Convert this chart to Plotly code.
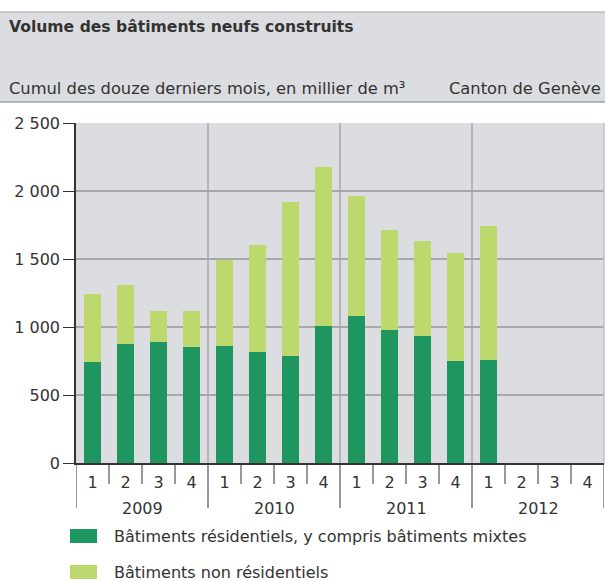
import plotly.graph_objects as go

# ---- data ----
years = ["2009", "2010", "2011", "2012"]
quarters = ["1", "2", "3", "4"]
residential = [740, 872, 887, 850, 857, 813, 784, 1004, 1078, 975, 931, 747, 755, None, None, None]
total = [1243, 1307, 1115, 1115, 1493, 1603, 1918, 2175, 1962, 1713, 1632, 1544, 1742, None, None, None]
non_residential = [(t - r) if (t is not None and r is not None) else None for t, r in zip(total, residential)]
series_names = ["Bâtiments résidentiels, y compris bâtiments mixtes", "Bâtiments non résidentiels"]
y_ticks = [0, 500, 1000, 1500, 2000, 2500]

W, H = 605, 581
PLOT_L, PLOT_R, PLOT_T, PLOT_B = 76, 604, 123, 463  # pixels
ML = PLOT_L
MR = W - PLOT_R
MT = PLOT_T
MB = H - PLOT_B
PW = PLOT_R - PLOT_L
PH = PLOT_B - PLOT_T

def px(p):
    return (p - PLOT_L) / PW

def py(p):
    return (PLOT_B - p) / PH

FONT = "DejaVu Sans, Liberation Sans, Arial, sans-serif"
TXT = "#333333"
DARK = "#1f9660"
LIGHT = "#bdd96e"
BG = "#dcdde0"
GRID = "#a8a8a8"
FS = 16

xs = list(range(len(years) * len(quarters)))
qlabels = [q for y in years for q in quarters]

fig = go.Figure()
fig.add_bar(x=xs, y=residential, marker_color=DARK, marker_line_width=0, name=series_names[0])
fig.add_bar(x=xs, y=non_residential, marker_color=LIGHT, marker_line_width=0, name=series_names[1])

shapes = []
# header box
shapes.append(dict(type="rect", xref="paper", yref="paper", x0=px(-2), x1=px(W + 2), y0=py(102), y1=py(12),
                   fillcolor=BG, line_width=0, layer="below"))
shapes.append(dict(type="line", xref="paper", yref="paper", x0=px(-2), x1=px(W + 2), y0=py(12), y1=py(12),
                   line=dict(color="#a0a0a0", width=1)))
shapes.append(dict(type="line", xref="paper", yref="paper", x0=px(-2), x1=px(W + 2), y0=py(102), y1=py(102),
                   line=dict(color="#a0a0a0", width=1.5)))
# year gridlines inside plot
for b in [3.5, 7.5, 11.5]:
    shapes.append(dict(type="line", xref="x", yref="paper", x0=b, x1=b, y0=0, y1=1,
                       line=dict(color=GRID, width=1.5), layer="below"))
# right border
shapes.append(dict(type="line", xref="paper", yref="paper", x0=1, x1=1, y0=0, y1=1,
                   line=dict(color="#c0c0c0", width=1.5)))
# quarter separators below axis
for i in range(len(xs) + 1):
    b = i - 0.5
    long_ = (i % 4 == 0)
    shapes.append(dict(type="line", xref="x", yref="paper", x0=b, x1=b, y0=0,
                       y1=py(508) if long_ else py(484),
                       line=dict(color="#333333", width=1)))
# legend swatches
shapes.append(dict(type="rect", xref="paper", yref="paper", x0=px(70), x1=px(97), y0=py(543), y1=py(529),
                   fillcolor=DARK, line_width=0))
shapes.append(dict(type="rect", xref="paper", yref="paper", x0=px(70), x1=px(97), y0=py(579), y1=py(565),
                   fillcolor=LIGHT, line_width=0))

annotations = [
    dict(text="<b>Volume des bâtiments neufs construits</b>", xref="paper", yref="paper",
         x=px(7), y=py(27), xanchor="left", yanchor="middle", showarrow=False,
         font=dict(family=FONT, size=15.6, color=TXT)),
    dict(text="Cumul des douze derniers mois, en millier de m³", xref="paper", yref="paper",
         x=px(7), y=py(89), xanchor="left", yanchor="middle", showarrow=False,
         font=dict(family=FONT, size=16.3, color=TXT)),
    dict(text="Canton de Genève", xref="paper", yref="paper",
         x=px(603), y=py(89), xanchor="right", yanchor="middle", showarrow=False,
         font=dict(family=FONT, size=16.3, color=TXT)),
]
for k, yr in enumerate(years):
    annotations.append(dict(text=yr, xref="x", yref="paper", x=4 * k + 1.5, y=py(508),
                            xanchor="center", yanchor="middle", showarrow=False,
                            font=dict(family=FONT, size=FS, color=TXT)))
for name, yc in zip(series_names, [536, 572]):
    annotations.append(dict(text=name, xref="paper", yref="paper", x=px(112), y=py(yc),
                            xanchor="left", yanchor="middle", showarrow=False,
                            font=dict(family=FONT, size=FS, color=TXT)))

fig.update_layout(
    width=W, height=H,
    margin=dict(l=ML, r=MR, t=MT, b=MB, pad=0),
    barmode="stack", bargap=0.485,
    plot_bgcolor=BG, paper_bgcolor="white",
    showlegend=False,
    separators=", ",
    hovermode=False,
    font=dict(family=FONT, size=FS, color=TXT),
    shapes=shapes, annotations=annotations,
    xaxis=dict(range=[-0.5, 15.5], tickvals=xs, ticktext=qlabels, ticks="", showgrid=False,
               zeroline=False, showline=True, linecolor="#333333", linewidth=1.5,
               ticklabelstandoff=4,
               tickfont=dict(family=FONT, size=FS, color=TXT), fixedrange=True),
    yaxis=dict(range=[0, 2500], tickvals=y_ticks, tickformat=",d", ticks="outside", ticklen=11,
               tickcolor="#333333", tickwidth=1, showgrid=True, gridcolor=GRID, gridwidth=1.5,
               zeroline=False, showline=True, linecolor="#333333", linewidth=1.5,
               tickfont=dict(family=FONT, size=FS, color=TXT), fixedrange=True),
)

fig.write_html(
    "out.html",
    config={"displayModeBar": False},
    post_script="document.body.style.margin='0';document.body.style.overflow='hidden';",
)
